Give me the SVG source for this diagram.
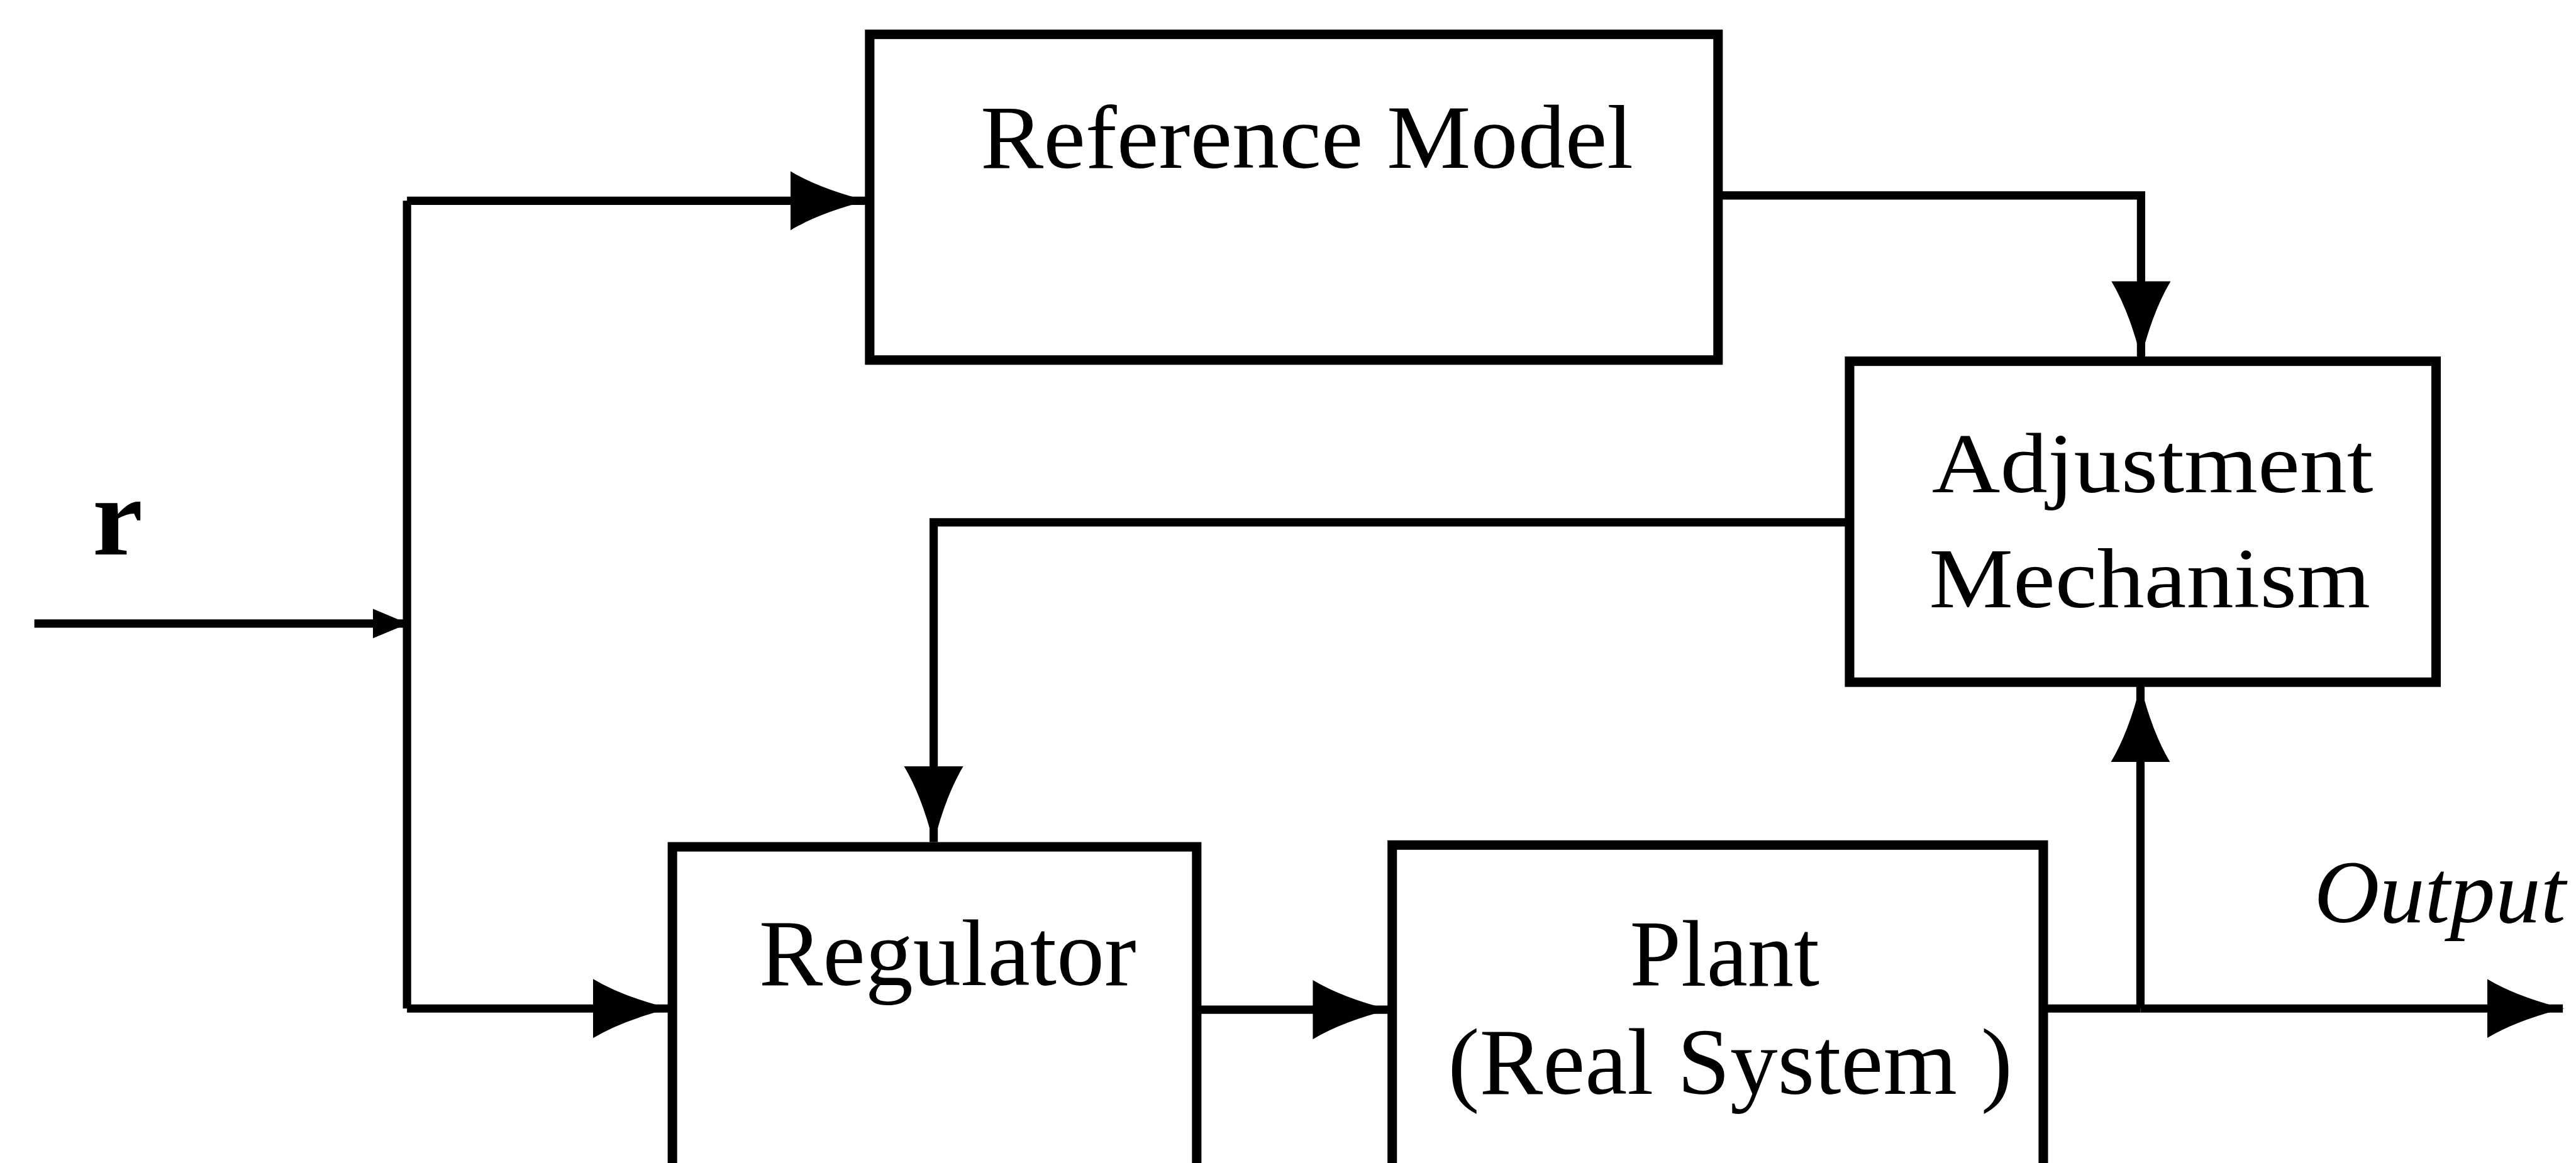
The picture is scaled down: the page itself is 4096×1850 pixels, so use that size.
<svg xmlns="http://www.w3.org/2000/svg" width="4096" height="1850" viewBox="0 0 4096 1850">
<defs>
<style>
.box{fill:#fff;stroke:#000;stroke-width:16}
.wire{fill:none;stroke:#000;stroke-width:14;marker-end:url(#ah)}
.t{font-family:"Liberation Serif","Times New Roman",serif;fill:#000}
</style>
<marker id="ah" markerUnits="userSpaceOnUse" markerWidth="130" markerHeight="100" viewBox="0 0 130 100" refX="128" refY="50" orient="auto">
<path d="M0,0 Q50,30 130,50 Q50,70 0,100 Z" fill="#000"/>
</marker>
<marker id="ahs" markerUnits="userSpaceOnUse" markerWidth="60" markerHeight="50" viewBox="0 0 60 50" refX="58" refY="25" orient="auto">
<path d="M0,0 L60,25 L0,50 Z" fill="#000"/>
</marker>
</defs>
<rect width="4096" height="1850" fill="#fff"/>
<g transform="scale(0.942)">
<g id="connectors">
<path d="M58,1053 L687,1053" fill="none" stroke="#000" stroke-width="14" marker-end="url(#ahs)"/>
<path d="M687,1053 L687,339" fill="none" stroke="#000" stroke-width="14"/>
<path class="wire" d="M687,339 L1462,339"/>
<path d="M687,1053 L687,1703" fill="none" stroke="#000" stroke-width="14"/>
<path class="wire" d="M687,1703 L1129,1703"/>
<path class="wire" d="M2900,330 L3614,330 L3614,603"/>
<path class="wire" d="M3122,882 L1576,882 L1576,1422"/>
<path class="wire" d="M2020,1705 L2344,1705"/>
<path d="M3449,1703 L3613,1703" fill="none" stroke="#000" stroke-width="14"/>
<path class="wire" d="M3613,1703 L3613,1159"/>
<path class="wire" d="M3613,1703 L4326,1703"/>
</g>
<g id="reference-model">
<rect class="box" x="1468" y="58" width="1432" height="550"/>
<text class="t" x="1655" y="283" font-size="152" textLength="1102" lengthAdjust="spacingAndGlyphs">Reference Model</text>
</g>
<g id="adjustment-mechanism">
<rect class="box" x="3122" y="610" width="990" height="542"/>
<text class="t" x="3261" y="831" font-size="145" textLength="745" lengthAdjust="spacingAndGlyphs">Adjustment</text>
<text class="t" x="3256" y="1025" font-size="145" textLength="745" lengthAdjust="spacingAndGlyphs">Mechanism</text>
</g>
<g id="regulator">
<rect class="box" x="1135" y="1430" width="885" height="640"/>
<text class="t" x="1281" y="1663" font-size="160" textLength="637" lengthAdjust="spacingAndGlyphs">Regulator</text>
</g>
<g id="plant">
<rect class="box" x="2350" y="1427" width="1099" height="640"/>
<text class="t" x="2751" y="1665" font-size="160" textLength="320" lengthAdjust="spacingAndGlyphs">Plant</text>
<text class="t" x="2444" y="1847" font-size="160" textLength="953" lengthAdjust="spacingAndGlyphs">(Real System )</text>
</g>
<g id="labels">
<text class="t" x="156" y="936" font-size="190" font-weight="bold" textLength="85" lengthAdjust="spacingAndGlyphs">r</text>
<text class="t" x="3906" y="1557" font-size="150" font-style="italic" textLength="425" lengthAdjust="spacingAndGlyphs">Output</text>
</g>
</g>
</svg>
